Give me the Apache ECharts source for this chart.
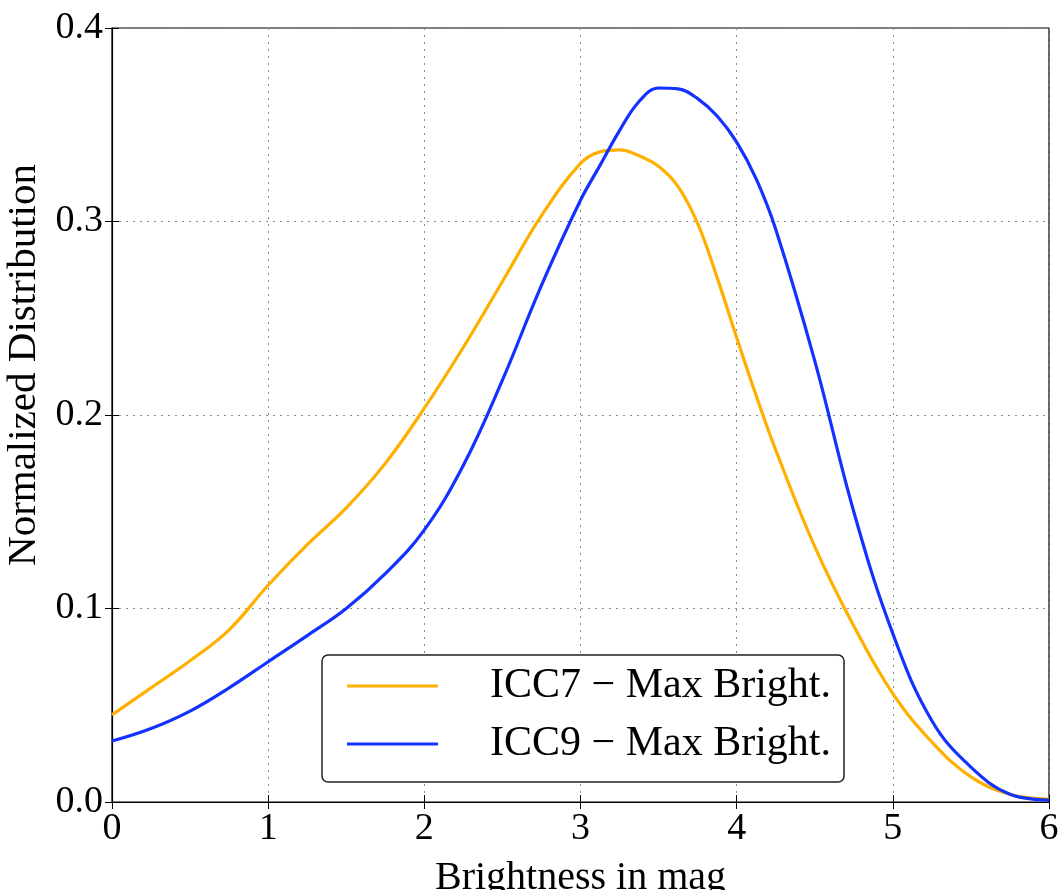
<!DOCTYPE html>
<html>
<head>
<meta charset="utf-8">
<script src="https://cdn.jsdelivr.net/npm/echarts@6/dist/echarts.min.js"></script>
<style>html,body{margin:0;padding:0;background:#fff}#c{width:1060px;height:890px}</style>
</head>
<body>
<div id="c"></div>
<script>
const xValues = [0,0.25,0.5,0.75,1,1.25,1.5,1.75,2,2.25,2.5,2.75,3,3.125,3.25,3.375,3.5,3.625,3.75,3.875,4,4.125,4.25,4.5,4.75,5,5.25,5.5,5.75,6];
const icc7 = [0.045,0.059,0.073,0.089,0.112,0.133,0.152,0.175,0.2035,0.235,0.269,0.303,0.330,0.336,0.337,0.334,0.3285,0.318,0.299,0.271,0.240,0.210,0.182,0.132,0.091,0.056,0.031,0.013,0.004,0.0015];
const icc9 = [0.0315,0.038,0.047,0.059,0.0725,0.086,0.100,0.118,0.1406,0.174,0.218,0.267,0.311,0.329,0.347,0.362,0.369,0.3685,0.3635,0.3545,0.341,0.322,0.296,0.228,0.150,0.087,0.042,0.018,0.004,0.001];
const seriesNames = ['ICC7 − Max Bright.','ICC9 − Max Bright.'];
const xTicks = ['0','1','2','3','4','5','6'];
const yTicks = ['0.0','0.1','0.2','0.3','0.4'];

const FONT = 'Liberation Serif';
const pair = arr => xValues.map((x,i)=>[x,arr[i]]);
const gridLine = {show:true,lineStyle:{color:'#8a8a8a',type:[2,5],width:1}};
const chart = echarts.init(document.getElementById('c'));
chart.setOption({
  animation:false,
  backgroundColor:'#fff',
  grid:{left:112,right:11,top:28,bottom:88,containLabel:false,outerBoundsMode:'none',show:true,borderColor:'#000',borderWidth:1.2,backgroundColor:'transparent'},
  xAxis:[{
    type:'value',min:0,max:6,interval:1,
    axisLine:{show:true,lineStyle:{color:'#000',width:1.2}},
    axisTick:{show:true,inside:true,length:7,lineStyle:{color:'#000'}},
    axisLabel:{fontFamily:FONT,fontSize:38,color:'#000',margin:8,formatter:(v)=>xTicks[Math.round(v)]},
    splitLine:gridLine,
    name:'Brightness in mag',nameLocation:'middle',nameGap:56,
    nameTextStyle:{fontFamily:FONT,fontSize:40,color:'#000'}
  },{
    type:'value',position:'top',min:0,max:6,interval:1,
    axisLine:{show:false},axisTick:{show:true,inside:true,length:7,lineStyle:{color:'#000'}},
    axisLabel:{show:false},splitLine:{show:false}
  }],
  yAxis:[{
    type:'value',min:0,max:0.4,interval:0.1,
    axisLine:{show:true,lineStyle:{color:'#000',width:1.2}},
    axisTick:{show:true,inside:true,length:7,lineStyle:{color:'#000'}},
    axisLabel:{fontFamily:FONT,fontSize:38,color:'#000',margin:9,formatter:(v)=>yTicks[Math.round(v*10)]},
    splitLine:gridLine,
    name:'Normalized Distribution',nameLocation:'middle',nameGap:62,
    nameTextStyle:{fontFamily:FONT,fontSize:41,color:'#000',padding:[0,0,0,100]}
  },{
    type:'value',position:'right',min:0,max:0.4,interval:0.1,
    axisLine:{show:false},axisTick:{show:true,inside:true,length:7,lineStyle:{color:'#000'}},
    axisLabel:{show:false},splitLine:{show:false}
  }],
  legend:{
    left:322,top:655,orient:'vertical',
    padding:[10,13,17,25],itemGap:16,itemWidth:91,itemHeight:3,
    backgroundColor:'#fff',borderColor:'#222',borderWidth:1.5,borderRadius:6,
    textStyle:{fontFamily:FONT,fontSize:42,color:'#000',lineHeight:42,padding:[0,0,0,47]},
    data:seriesNames.map(n=>({name:n,icon:'rect'}))
  },
  series:[
    {name:seriesNames[0],type:'line',data:pair(icc7),smooth:0.4,symbol:'none',lineStyle:{color:'#ffaf00',width:3.2},itemStyle:{color:'#ffaf00'}},
    {name:seriesNames[1],type:'line',data:pair(icc9),smooth:0.4,symbol:'none',lineStyle:{color:'#1432ff',width:3.2},itemStyle:{color:'#1432ff'}}
  ]
});
</script>
</body>
</html>
